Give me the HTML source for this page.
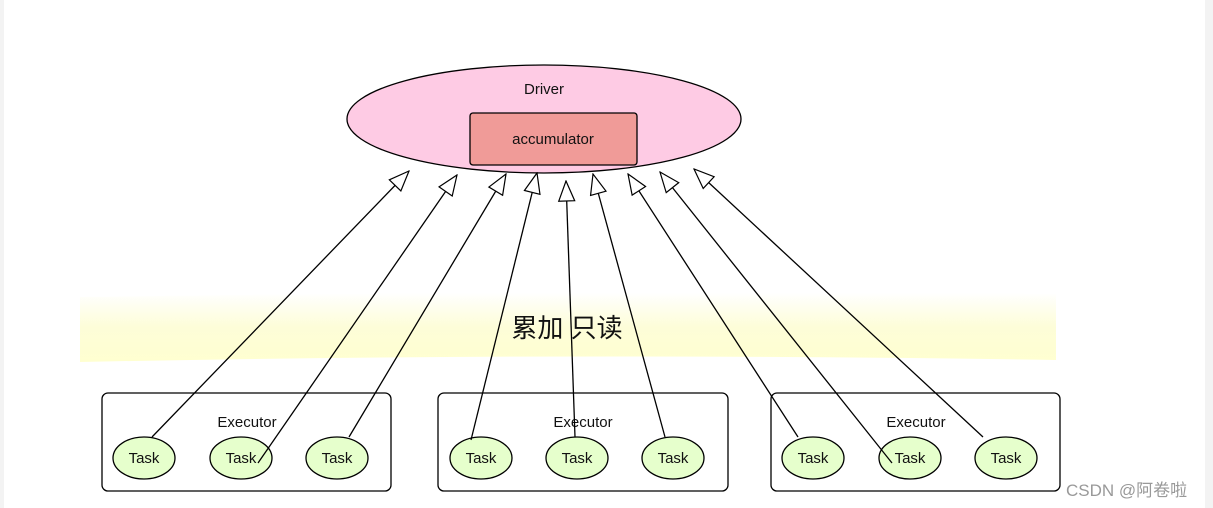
<!DOCTYPE html>
<html><head><meta charset="utf-8"><style>
html,body{margin:0;padding:0;background:#fff;}
body{width:1213px;height:508px;overflow:hidden;position:relative;}
svg{position:absolute;left:0;top:0;}
text{font-family:"Liberation Sans","Noto Sans CJK SC",sans-serif;}
</style></head><body>
<svg width="1213" height="508" viewBox="0 0 1213 508">
<defs>
<linearGradient id="yb" x1="0" y1="0" x2="0" y2="1">
<stop offset="0" stop-color="#ffffff"/>
<stop offset="0.5" stop-color="#fdfdd8"/>
<stop offset="1" stop-color="#ffffd0"/>
</linearGradient>
<marker id="ah" viewBox="0 0 22 18" refX="21" refY="9" markerWidth="22" markerHeight="18" markerUnits="userSpaceOnUse" orient="auto">
<path d="M1,1 L21,9 L1,17 Z" fill="#fff" stroke="#000" stroke-width="1.2"/>
</marker>
</defs>
<rect x="0" y="0" width="4" height="508" fill="#f3f3f3"/>
<rect x="1205" y="0" width="8" height="508" fill="#f3f3f3"/>
<path d="M80,297 Q560,290 1056,294 L1056,360 Q560,352 80,362 Z" fill="url(#yb)"/>
<text x="567" y="337" font-size="26" text-anchor="middle" fill="#111">累加 只读</text>
<ellipse cx="544" cy="119" rx="197" ry="54" fill="#fecbe4" stroke="#000" stroke-width="1.3"/>
<text x="544" y="94" font-size="15" text-anchor="middle" fill="#111">Driver</text>
<rect x="470" y="113" width="167" height="52" rx="3" fill="#f09b98" stroke="#000" stroke-width="1.3"/>
<text x="553" y="144" font-size="15" text-anchor="middle" fill="#111">accumulator</text>
<g fill="#fff" stroke="#000" stroke-width="1.3">
<rect x="102" y="393" width="289" height="98" rx="6"/>
<rect x="438" y="393" width="290" height="98" rx="6"/>
<rect x="771" y="393" width="289" height="98" rx="6"/>
</g>
<g font-size="15" text-anchor="middle" fill="#111">
<text x="247" y="427">Executor</text>
<text x="583" y="427">Executor</text>
<text x="916" y="427">Executor</text>
</g>
<g fill="#e6ffcc" stroke="#000" stroke-width="1.3">
<ellipse cx="144" cy="458" rx="31" ry="21"/>
<ellipse cx="241" cy="458" rx="31" ry="21"/>
<ellipse cx="337" cy="458" rx="31" ry="21"/>
<ellipse cx="481" cy="458" rx="31" ry="21"/>
<ellipse cx="577" cy="458" rx="31" ry="21"/>
<ellipse cx="673" cy="458" rx="31" ry="21"/>
<ellipse cx="813" cy="458" rx="31" ry="21"/>
<ellipse cx="910" cy="458" rx="31" ry="21"/>
<ellipse cx="1006" cy="458" rx="31" ry="21"/>
</g>
<g font-size="15" text-anchor="middle" fill="#111">
<text x="144" y="463">Task</text><text x="241" y="463">Task</text><text x="337" y="463">Task</text>
<text x="481" y="463">Task</text><text x="577" y="463">Task</text><text x="673" y="463">Task</text>
<text x="813" y="463">Task</text><text x="910" y="463">Task</text><text x="1006" y="463">Task</text>
</g>
<g stroke="#000" stroke-width="1.3" fill="none" marker-end="url(#ah)">
<line x1="152" y1="437" x2="409" y2="171"/>
<line x1="258" y1="463" x2="457" y2="175"/>
<line x1="349" y1="437" x2="506" y2="174"/>
<line x1="471" y1="440" x2="537" y2="173"/>
<line x1="575" y1="437" x2="566" y2="181"/>
<line x1="665" y1="437" x2="593" y2="174"/>
<line x1="798" y1="437" x2="628" y2="174"/>
<line x1="892" y1="463" x2="660" y2="172"/>
<line x1="983" y1="437" x2="694" y2="169"/>
</g>
<text x="1066" y="496" font-size="17" fill="#999">CSDN @阿卷啦</text>
</svg>
</body></html>
